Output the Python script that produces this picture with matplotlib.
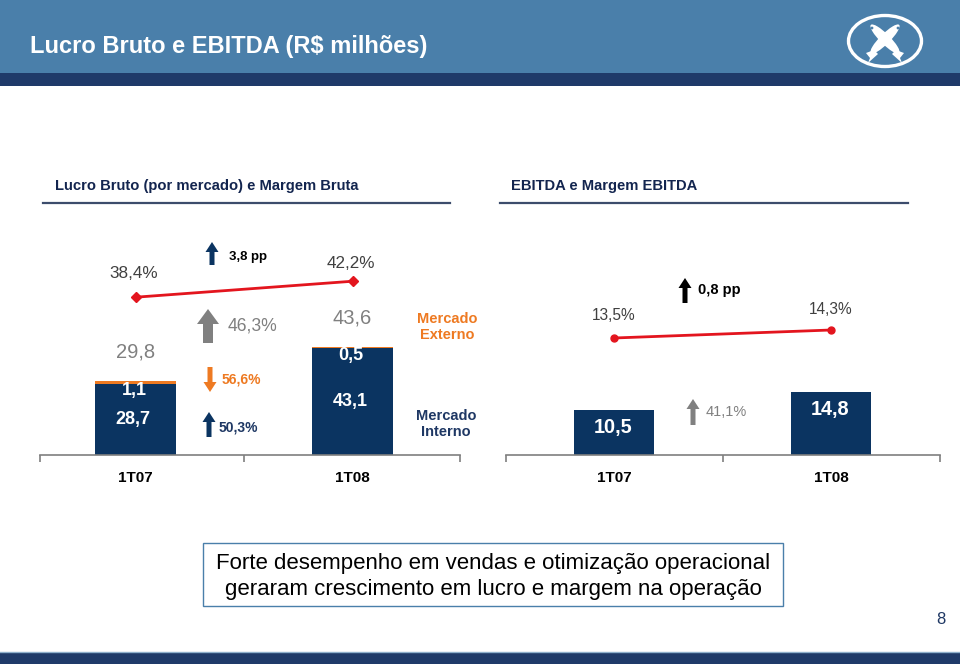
import matplotlib
matplotlib.use('Agg')
import matplotlib.pyplot as plt
from matplotlib.patches import Rectangle, Ellipse, FancyArrow, Polygon, Circle

# ---------------- data ----------------
periods = ['1T07', '1T08']
lb_interno = [28.7, 43.1]
lb_externo = [1.1, 0.5]
lb_total = [29.8, 43.6]
margem_bruta = [38.4, 42.2]
ebitda = [10.5, 14.8]
margem_ebitda = [13.5, 14.3]
var_margem_bruta = 3.8     # pp
var_lucro_total = 46.3     # %
var_externo = -56.6        # %
var_interno = 50.3         # %
var_margem_ebitda = 0.8    # pp
var_ebitda = 41.1          # %

title = 'Lucro Bruto e EBITDA (R$ milhões)'
sub_left = 'Lucro Bruto (por mercado) e Margem Bruta'
sub_right = 'EBITDA e Margem EBITDA'
message = ['Forte desempenho em vendas e otimização operacional',
           'geraram crescimento em lucro e margem na operação']


def br(v, pct=False):
    s = f'{abs(v):.1f}'.replace('.', ',')
    return s + ('%' if pct else '')


plt.rcParams['font.family'] = ['Liberation Sans', 'DejaVu Sans']

NAVY = '#0B3461'
ORANGE = '#EE7A22'
RED = '#E3151E'
GRAY = '#808080'
DARK = '#404040'
HEAD = '#4A7FAA'
HEAD_DARK = '#1F3A69'

W, H = 960, 664
fig = plt.figure(figsize=(9.6, 6.64), dpi=100)


def px_axes(x0, x1, ybot, ytop):
    return fig.add_axes([x0 / W, (H - ybot) / H, (x1 - x0) / W, (ybot - ytop) / H])


def style_axis(ax, xlim, ticks):
    ax.set_xlim(*xlim)
    for s in ['top', 'left', 'right']:
        ax.spines[s].set_visible(False)
    ax.spines['bottom'].set_color('#7F7F7F')
    ax.spines['bottom'].set_linewidth(1.2)
    ax.set_yticks([])
    ax.set_xticks(range(len(periods)))
    ax.set_xticklabels(periods, fontsize=11, fontweight='bold', color='black')
    ax.tick_params(axis='x', which='major', length=0, pad=11.5)
    ax.set_xticks(ticks, minor=True)
    ax.tick_params(axis='x', which='minor', length=5, width=1.2, color='#7F7F7F', direction='out')
    ax.patch.set_alpha(0)


# ---------------- left chart ----------------
axL = px_axes(40, 460, 455, 240)
xs = list(range(len(periods)))
axL.bar(xs, lb_interno, width=0.375, color=NAVY, zorder=2)
axL.bar(xs, lb_externo, width=0.375, bottom=lb_interno, color=ORANGE, zorder=2)
axL.set_ylim(0, 86.7)
style_axis(axL, (-0.44, 1.495), [-0.44, 0.5, 1.495])
for x, vi, ve, vt in zip(xs, lb_interno, lb_externo, lb_total):
    axL.text(x - 0.01, vi / 2, br(vi), ha='center', va='center', color='white',
             fontsize=13, fontweight='bold', zorder=3)
    axL.annotate(br(ve), (x, vt), xytext=(-1, -6.5), textcoords='offset points',
                 ha='center', va='center', color='white', fontsize=13,
                 fontweight='bold', zorder=3)
    axL.annotate(br(vt), (x, vt), xytext=(0, 21), textcoords='offset points',
                 ha='center', va='center', color=GRAY, fontsize=14.5, zorder=3)

axL2 = axL.twinx()
axL2.set_ylim(0.9, 52)
axL2.axis('off')
axL2.plot(xs, margem_bruta, color=RED, lw=2, marker='D', ms=5, zorder=4)
for x, v, off in zip(xs, margem_bruta, [17, 12.5]):
    axL2.annotate(br(v, True), (x, v), xytext=(-1, off), textcoords='offset points',
                  ha='center', va='center', color=DARK, fontsize=12.3)

# ---------------- right chart ----------------
axR = px_axes(506, 940, 455, 240)
axR.bar(xs, ebitda, width=0.37, color=NAVY, zorder=2)
axR.set_ylim(0, 50.35)
style_axis(axR, (-0.498, 1.502), [-0.498, 0.5, 1.502])
for x, v in zip(xs, ebitda):
    axR.annotate(br(v), (x, v), xytext=(-1, -12.5), textcoords='offset points',
                 ha='center', va='center', color='white', fontsize=14.3,
                 fontweight='bold', zorder=3)
axR2 = axR.twinx()
axR2.set_ylim(1.8, 23.3)
axR2.axis('off')
axR2.plot(xs, margem_ebitda, color=RED, lw=2, marker='o', ms=5, zorder=4)
for x, v, off in zip(xs, margem_ebitda, [16, 14.5]):
    axR2.annotate(br(v, True), (x, v), xytext=(0, off), textcoords='offset points',
                  ha='center', va='center', color=DARK, fontsize=11.2)

# ---------------- overlay (pixel coordinates) ----------------
ov = fig.add_axes([0, 0, 1, 1], zorder=10)
ov.set_xlim(0, W)
ov.set_ylim(H, 0)
ov.axis('off')
ov.patch.set_alpha(0)

# header
ov.add_patch(Rectangle((0, 0), W, 73, color=HEAD, lw=0))
ov.add_patch(Rectangle((0, 73), W, 13, color=HEAD_DARK, lw=0))
ov.text(30, 47, title, color='white', fontsize=17, fontweight='bold', va='center', ha='left')

# logo
ov.add_patch(Ellipse((885, 41), 73, 51, fill=False, ec='white', lw=2.4))
for ang in (45, -45):
    ov.add_patch(Ellipse((885, 39), 40, 10, angle=ang, color='white', lw=0))
# tails
ov.add_patch(Polygon([[874, 50], [866, 53], [870, 58], [868, 63], [878, 54]], color='white', lw=0))
ov.add_patch(Polygon([[896, 50], [904, 53], [900, 58], [902, 63], [892, 54]], color='white', lw=0))
# eyes
ov.add_patch(Circle((872, 28), 1.4, color=HEAD, lw=0))
ov.add_patch(Circle((898, 28), 1.4, color=HEAD, lw=0))

# bottom band
ov.add_patch(Rectangle((0, 652), W, 12, color=HEAD_DARK, lw=0))
ov.plot([0, W], [651.5, 651.5], color='#8FB0CC', lw=1)

# subtitles
ov.text(55, 186, sub_left, color='#13254F', fontsize=10.6, fontweight='bold', va='center')
ov.plot([43, 450], [202.5, 202.5], color='#3C4C6C', lw=1.6)
ov.text(511, 186, sub_right, color='#13254F', fontsize=10.6, fontweight='bold', va='center')
ov.plot([500, 908], [202.5, 202.5], color='#3C4C6C', lw=1.6)

# legend-like labels
ov.text(447, 327, 'Mercado\nExterno', color=ORANGE, fontsize=10.5, fontweight='bold',
        ha='center', va='center', linespacing=1.15)
ov.text(446, 424, 'Mercado\nInterno', color='#1F3864', fontsize=10.5, fontweight='bold',
        ha='center', va='center', linespacing=1.15)


def arrow(x, ytail, ytip, color, shaft, head, hlen):
    ov.add_patch(FancyArrow(x, ytail, 0, ytip - ytail, width=shaft, head_width=head,
                            head_length=hlen, length_includes_head=True,
                            color=color, lw=0))


# left chart variation arrows
arrow(212, 265, 242, NAVY, 5, 13, 10)
ov.text(229, 257, br(var_margem_bruta) + ' pp', color='black', fontsize=9.5,
        fontweight='bold', va='center')
arrow(208, 343, 309, GRAY, 10, 22, 15)
ov.text(228, 326, br(var_lucro_total, True), color=GRAY, fontsize=12.7, va='center')
arrow(210, 367, 392, ORANGE, 5, 13, 10)
ov.text(222, 380, br(var_externo, True), color=ORANGE, fontsize=10,
        fontweight='bold', va='center')
arrow(209, 437, 412, NAVY, 5, 13, 10)
ov.text(219, 427, br(var_interno, True), color='#1F3864', fontsize=10,
        fontweight='bold', va='center')

# right chart variation arrows
arrow(685, 303, 278, 'black', 5, 13, 10)
ov.text(698, 290, br(var_margem_ebitda) + ' pp', color='black', fontsize=10.5,
        fontweight='bold', va='center')
arrow(693, 425, 399, GRAY, 5, 13, 10)
ov.text(706, 412, br(var_ebitda, True), color=GRAY, fontsize=10.5, va='center')

# message box
ov.add_patch(Rectangle((203, 543), 580, 63, fill=True, fc='white', ec='#4A7FAA', lw=1))
ov.text(493, 563, message[0], color='black', fontsize=16, ha='center', va='center')
ov.text(493, 589, message[1], color='black', fontsize=16, ha='center', va='center')

# page number
ov.text(941, 620, '8', color='#1F3864', fontsize=12, ha='center', va='center')

fig.savefig('out.png', dpi=100)
